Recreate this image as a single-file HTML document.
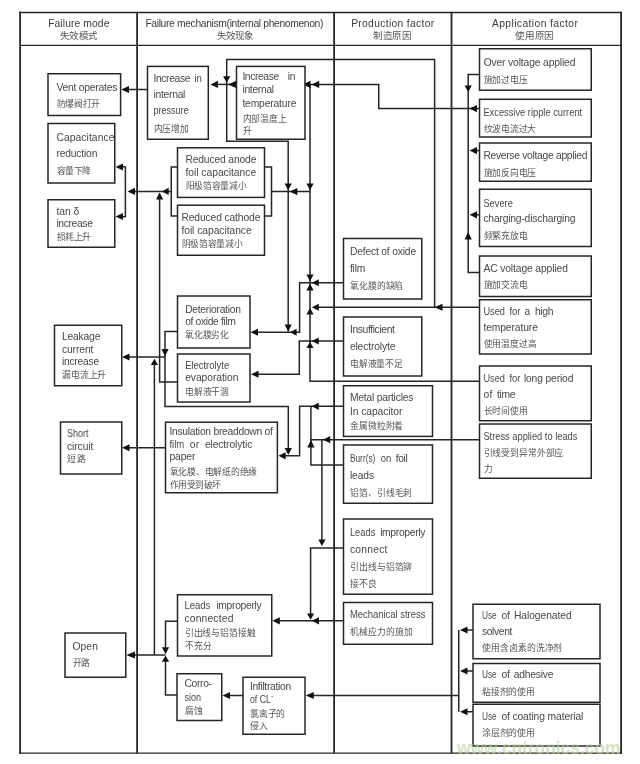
<!DOCTYPE html>
<html lang="zh-CN">
<head>
<meta charset="utf-8">
<title>Failure mode diagram</title>
<style>
html,body{margin:0;padding:0;background:#fefefe;}
body{width:640px;height:764px;overflow:hidden;font-family:"Liberation Sans",sans-serif;}
svg{display:block;}
text{font-family:"Liberation Sans",sans-serif;white-space:pre;}
</style>
</head>
<body>
<svg width="640" height="764" viewBox="0 0 640 764">
<rect x="0" y="0" width="640" height="764" fill="#fefefe"/>
<g style="filter:blur(0.35px)">
<polyline points="20.1,11.8 20.1,753.7" fill="none" stroke="#262626" stroke-width="1.8"/>
<polyline points="621.1,11.8 621.1,753.7" fill="none" stroke="#262626" stroke-width="1.8"/>
<polyline points="19.2,12.5 622,12.5" fill="none" stroke="#262626" stroke-width="1.4"/>
<polyline points="19.2,753.2 622,753.2" fill="none" stroke="#262626" stroke-width="1.3"/>
<polyline points="20,45.4 621.25,45.4" fill="none" stroke="#262626" stroke-width="1.3"/>
<polyline points="137.1,12 137.1,753.2" fill="none" stroke="#262626" stroke-width="1.8"/>
<polyline points="334.1,12 334.1,753.2" fill="none" stroke="#262626" stroke-width="1.8"/>
<polyline points="451.5,12 451.5,753.2" fill="none" stroke="#262626" stroke-width="1.8"/>
<polyline points="434.6,307.25 434.6,59.6 226.7,59.6 226.7,141.2 288.2,141.2 288.2,331.5" fill="none" stroke="#262626" stroke-width="1.5"/>
<rect x="171.25" y="167" width="100.25" height="49" fill="none" stroke="#262626" stroke-width="1.5"/>
<polyline points="147.5,89.5 128,89.5" fill="none" stroke="#262626" stroke-width="1.5"/>
<polyline points="236.5,84.4 217,84.4" fill="none" stroke="#262626" stroke-width="1.5"/>
<polyline points="305,84.4 378.75,84.4 378.75,108.6 479.5,108.6" fill="none" stroke="#262626" stroke-width="1.5"/>
<polyline points="310,84.2 310,381.3 479.5,381.3" fill="none" stroke="#262626" stroke-width="1.5"/>
<polyline points="310.9,406.3 310.9,465 343.5,465" fill="none" stroke="#262626" stroke-width="1.5"/>
<polyline points="271.5,191.6 310,191.6" fill="none" stroke="#262626" stroke-width="1.5"/>
<polyline points="171.25,191.4 134,191.4" fill="none" stroke="#262626" stroke-width="1.5"/>
<polyline points="122,166.8 125.4,166.8 125.4,216.8 122,216.8" fill="none" stroke="#262626" stroke-width="1.5"/>
<polyline points="159.6,198 159.6,382 177.5,382" fill="none" stroke="#262626" stroke-width="1.5"/>
<polyline points="177.5,331.5 165,331.5 165,406.4 288.3,406.4 288.3,449" fill="none" stroke="#262626" stroke-width="1.5"/>
<polyline points="165,357 129,357" fill="none" stroke="#262626" stroke-width="1.5"/>
<polyline points="154.4,364 154.4,655" fill="none" stroke="#262626" stroke-width="1.5"/>
<polyline points="165.5,655 134,655" fill="none" stroke="#262626" stroke-width="1.5"/>
<polyline points="165.5,447.7 129,447.7" fill="none" stroke="#262626" stroke-width="1.5"/>
<polyline points="343.5,282.75 299.6,282.75 299.6,332.25 257,332.25" fill="none" stroke="#262626" stroke-width="1.5"/>
<polyline points="479.5,307.25 318,307.25" fill="none" stroke="#262626" stroke-width="1.5"/>
<polyline points="343.5,341 299.3,341 299.3,374.25 258,374.25" fill="none" stroke="#262626" stroke-width="1.5"/>
<polyline points="343.5,406.3 299.6,406.3 299.6,455.7 285,455.7" fill="none" stroke="#262626" stroke-width="1.5"/>
<polyline points="479.5,439.7 310,439.7" fill="none" stroke="#262626" stroke-width="1.5"/>
<polyline points="321.9,439.7 321.9,540" fill="none" stroke="#262626" stroke-width="1.5"/>
<polyline points="343.5,548 310.6,548 310.6,614" fill="none" stroke="#262626" stroke-width="1.5"/>
<polyline points="343.5,620.8 279,620.8" fill="none" stroke="#262626" stroke-width="1.5"/>
<polyline points="177.5,621.25 165.5,621.25 165.5,648" fill="none" stroke="#262626" stroke-width="1.5"/>
<polyline points="177,695 165.5,695 165.5,661" fill="none" stroke="#262626" stroke-width="1.5"/>
<polyline points="243,695.5 229,695.5" fill="none" stroke="#262626" stroke-width="1.5"/>
<polyline points="458.75,695.5 313,695.5" fill="none" stroke="#262626" stroke-width="1.5"/>
<polyline points="458.75,630 458.75,711.75" fill="none" stroke="#262626" stroke-width="1.5"/>
<polyline points="473,630 466,630" fill="none" stroke="#262626" stroke-width="1.5"/>
<polyline points="473,671 466,671" fill="none" stroke="#262626" stroke-width="1.5"/>
<polyline points="473,711.75 466,711.75" fill="none" stroke="#262626" stroke-width="1.5"/>
<polyline points="479.5,74.4 468.2,74.4 468.2,272.4 479.5,272.4" fill="none" stroke="#262626" stroke-width="1.5"/>
<polyline points="479.5,150.6 476,150.6" fill="none" stroke="#262626" stroke-width="1.5"/>
<polyline points="479.5,214.8 476,214.8" fill="none" stroke="#262626" stroke-width="1.5"/>
<polygon points="121.2,89.5 129,85.9 129,93.1" fill="#111"/>
<polygon points="210.5,84.4 218,80.80000000000001 218,88.0" fill="#111"/>
<polygon points="228.4,84.4 236,80.80000000000001 236,88.0" fill="#111"/>
<polygon points="226.7,82.8 223.1,76.2 230.29999999999998,76.2" fill="#111"/>
<polygon points="302.8,84.4 310.5,80.80000000000001 310.5,88.0" fill="#111"/>
<polygon points="311.6,84.4 319.2,80.80000000000001 319.2,88.0" fill="#111"/>
<polygon points="469.4,108.6 477,105.0 477,112.19999999999999" fill="#111"/>
<polygon points="310,190.2 306.4,183.5 313.6,183.5" fill="#111"/>
<polygon points="288.2,190.2 284.59999999999997,183.5 291.8,183.5" fill="#111"/>
<polygon points="289.7,191.6 297.4,188.0 297.4,195.2" fill="#111"/>
<polygon points="127.5,191.4 135,187.8 135,195.0" fill="#111"/>
<polygon points="162,191.4 168.7,187.8 168.7,195.0" fill="#111"/>
<polygon points="159.6,192.5 156.0,199.4 163.2,199.4" fill="#111"/>
<polygon points="115.6,167 123,163.4 123,170.6" fill="#111"/>
<polygon points="115.6,216.5 123,212.9 123,220.1" fill="#111"/>
<polygon points="310,281.3 306.4,274.4 313.6,274.4" fill="#111"/>
<polygon points="310,283.8 306.4,290.6 313.6,290.6" fill="#111"/>
<polygon points="311.9,282.75 318.75,279.15 318.75,286.35" fill="#111"/>
<polygon points="310,308 306.4,314.6 313.6,314.6" fill="#111"/>
<polygon points="311.9,307.25 318.75,303.65 318.75,310.85" fill="#111"/>
<polygon points="434.6,307.25 442.5,303.65 442.5,310.85" fill="#111"/>
<polygon points="310,341.9 306.4,348 313.6,348" fill="#111"/>
<polygon points="311.9,341 318.75,337.4 318.75,344.6" fill="#111"/>
<polygon points="288.2,331.5 284.59999999999997,324.4 291.8,324.4" fill="#111"/>
<polygon points="290,332.25 296.6,328.65 296.6,335.85" fill="#111"/>
<polygon points="250.5,332.25 258,328.65 258,335.85" fill="#111"/>
<polygon points="251,374.25 258.5,370.65 258.5,377.85" fill="#111"/>
<polygon points="165,356.3 161.4,349 168.6,349" fill="#111"/>
<polygon points="122,357 129.5,353.4 129.5,360.6" fill="#111"/>
<polygon points="154.4,358.7 150.8,365 158.0,365" fill="#111"/>
<polygon points="311.9,406.3 318.75,402.7 318.75,409.90000000000003" fill="#111"/>
<polygon points="288.3,455 284.7,448 291.90000000000003,448" fill="#111"/>
<polygon points="278.5,455.8 285.7,452.2 285.7,459.40000000000003" fill="#111"/>
<polygon points="310.9,440 307.29999999999995,447.5 314.5,447.5" fill="#111"/>
<polygon points="323,439.7 330.2,436.09999999999997 330.2,443.3" fill="#111"/>
<polygon points="122,447.75 129.5,444.15 129.5,451.35" fill="#111"/>
<polygon points="321.9,546 318.29999999999995,539.6 325.5,539.6" fill="#111"/>
<polygon points="310.6,619.8 307.0,613.4 314.20000000000005,613.4" fill="#111"/>
<polygon points="311.7,620.8 319,617.1999999999999 319,624.4" fill="#111"/>
<polygon points="272.4,620.8 279.8,617.1999999999999 279.8,624.4" fill="#111"/>
<polygon points="165.5,654.3 161.9,647.2 169.1,647.2" fill="#111"/>
<polygon points="165.5,655.6 161.9,661.8 169.1,661.8" fill="#111"/>
<polygon points="126.25,655 135,651.4 135,658.6" fill="#111"/>
<polygon points="222.5,695.5 230,691.9 230,699.1" fill="#111"/>
<polygon points="305.75,695.5 313.75,691.9 313.75,699.1" fill="#111"/>
<polygon points="460,630 467.5,626.4 467.5,633.6" fill="#111"/>
<polygon points="460,671 467.5,667.4 467.5,674.6" fill="#111"/>
<polygon points="460,711.75 467.5,708.15 467.5,715.35" fill="#111"/>
<polygon points="468.2,91.9 464.59999999999997,85.6 471.8,85.6" fill="#111"/>
<polygon points="468.2,232 464.59999999999997,239.4 471.8,239.4" fill="#111"/>
<polygon points="469.6,150.6 477,147.0 477,154.2" fill="#111"/>
<polygon points="469.6,214.8 477,211.20000000000002 477,218.4" fill="#111"/>
<rect x="48" y="73.75" width="72.6" height="41.75" fill="#fff" stroke="#262626" stroke-width="1.5"/>
<rect x="48" y="123.5" width="66.75" height="59.5" fill="#fff" stroke="#262626" stroke-width="1.5"/>
<rect x="48" y="199.75" width="66.75" height="47.5" fill="#fff" stroke="#262626" stroke-width="1.5"/>
<rect x="54.5" y="325.25" width="67.25" height="60.5" fill="#fff" stroke="#262626" stroke-width="1.5"/>
<rect x="60.5" y="422" width="61.25" height="52" fill="#fff" stroke="#262626" stroke-width="1.5"/>
<rect x="65" y="633" width="60.75" height="44.25" fill="#fff" stroke="#262626" stroke-width="1.5"/>
<rect x="147.5" y="66.4" width="60.8" height="72.85" fill="#fff" stroke="#262626" stroke-width="1.5"/>
<rect x="236.5" y="66.4" width="68.5" height="72.85" fill="#fff" stroke="#262626" stroke-width="1.5"/>
<rect x="177.5" y="147.8" width="87.0" height="49.6" fill="#fff" stroke="#262626" stroke-width="1.5"/>
<rect x="177.5" y="205.2" width="87.0" height="50.05" fill="#fff" stroke="#262626" stroke-width="1.5"/>
<rect x="177.5" y="296" width="72.5" height="52" fill="#fff" stroke="#262626" stroke-width="1.5"/>
<rect x="177.5" y="354" width="72.5" height="48" fill="#fff" stroke="#262626" stroke-width="1.5"/>
<rect x="165.5" y="422.2" width="111.9" height="70.55" fill="#fff" stroke="#262626" stroke-width="1.5"/>
<rect x="177.5" y="594.75" width="94.25" height="61.25" fill="#fff" stroke="#262626" stroke-width="1.5"/>
<rect x="177" y="673.75" width="44.75" height="46.75" fill="#fff" stroke="#262626" stroke-width="1.5"/>
<rect x="243" y="677.25" width="62" height="57.0" fill="#fff" stroke="#262626" stroke-width="1.5"/>
<rect x="343.5" y="238.5" width="78.25" height="60.5" fill="#fff" stroke="#262626" stroke-width="1.5"/>
<rect x="343.5" y="317" width="78.25" height="59" fill="#fff" stroke="#262626" stroke-width="1.5"/>
<rect x="343.5" y="385.75" width="89.0" height="50.65" fill="#fff" stroke="#262626" stroke-width="1.5"/>
<rect x="343.5" y="445" width="89.0" height="58.25" fill="#fff" stroke="#262626" stroke-width="1.5"/>
<rect x="343.5" y="519" width="89.0" height="75.2" fill="#fff" stroke="#262626" stroke-width="1.5"/>
<rect x="343.5" y="602.5" width="89.0" height="41.75" fill="#fff" stroke="#262626" stroke-width="1.5"/>
<rect x="479.5" y="48.75" width="111.75" height="41.45" fill="#fff" stroke="#262626" stroke-width="1.5"/>
<rect x="479.5" y="99.3" width="111.75" height="37.7" fill="#fff" stroke="#262626" stroke-width="1.5"/>
<rect x="479.5" y="143" width="111.75" height="38.25" fill="#fff" stroke="#262626" stroke-width="1.5"/>
<rect x="479.5" y="189.25" width="111.75" height="57.25" fill="#fff" stroke="#262626" stroke-width="1.5"/>
<rect x="479.5" y="256" width="111.75" height="40.5" fill="#fff" stroke="#262626" stroke-width="1.5"/>
<rect x="479.5" y="299.75" width="111.75" height="54.25" fill="#fff" stroke="#262626" stroke-width="1.5"/>
<rect x="479.5" y="366" width="111.75" height="54.75" fill="#fff" stroke="#262626" stroke-width="1.5"/>
<rect x="479.5" y="424" width="111.75" height="54.25" fill="#fff" stroke="#262626" stroke-width="1.5"/>
<rect x="473" y="604.25" width="127" height="54.5" fill="#fff" stroke="#262626" stroke-width="1.5"/>
<rect x="473" y="663.5" width="127" height="38.75" fill="#fff" stroke="#262626" stroke-width="1.5"/>
<rect x="473" y="704.25" width="127" height="41.75" fill="#fff" stroke="#262626" stroke-width="1.5"/>
<text class="l" x="48.13" y="27" font-size="10.3" fill="#3c3c3c" textLength="61.28" lengthAdjust="spacing">Failure mode</text>
<text class="c" x="59.62" y="39.3" font-size="9.5" fill="#555555" textLength="38.35" lengthAdjust="spacing">失效模式</text>
<text class="l" x="145.38" y="27" font-size="10.3" fill="#3c3c3c" textLength="178.03" lengthAdjust="spacing">Failure mechanism(internal phenomenon)</text>
<text class="c" x="216.62" y="39.3" font-size="9.5" fill="#555555" textLength="37.68" lengthAdjust="spacing">失效现象</text>
<text class="l" x="351.13" y="27" font-size="10.3" fill="#3c3c3c" textLength="83.03" lengthAdjust="spacing">Production factor</text>
<text class="c" x="373.37" y="39.3" font-size="9.5" fill="#555555" textLength="38.35" lengthAdjust="spacing">制造原因</text>
<text class="l" x="491.88" y="27" font-size="10.3" fill="#3c3c3c" textLength="86.03" lengthAdjust="spacing">Application factor</text>
<text class="c" x="515.37" y="39.3" font-size="9.5" fill="#555555" textLength="39.01" lengthAdjust="spacing">使用原因</text>
<text class="l" x="56.38" y="90.5" font-size="10.3" fill="#484848" textLength="61.03" lengthAdjust="spacing">Vent operates</text>
<text class="c" x="56.65" y="107.3" font-size="8.8" fill="#555555" textLength="43.63" lengthAdjust="spacing">防爆阀打开</text>
<text class="l" x="56.38" y="141" font-size="10.3" fill="#484848" textLength="58.03" lengthAdjust="spacing">Capacitance</text>
<text class="l" x="56.38" y="157" font-size="10.3" fill="#484848" textLength="41.03" lengthAdjust="spacing">reduction</text>
<text class="c" x="56.65" y="174.0" font-size="8.8" fill="#555555" textLength="34.54" lengthAdjust="spacing">容量下降</text>
<text class="l" x="56.38" y="215.25" font-size="10.3" fill="#484848" textLength="22.78" lengthAdjust="spacing">tan δ</text>
<text class="l" x="56.38" y="227.25" font-size="10.3" fill="#484848" textLength="36.53" lengthAdjust="spacing">increase</text>
<text class="c" x="56.65" y="239.8" font-size="8.8" fill="#555555" textLength="34.54" lengthAdjust="spacing">损耗上升</text>
<text class="l" x="61.88" y="340.25" font-size="10.3" fill="#484848" textLength="38.53" lengthAdjust="spacing">Leakage</text>
<text class="l" x="61.88" y="352.75" font-size="10.3" fill="#484848" textLength="31.53" lengthAdjust="spacing">current</text>
<text class="l" x="61.88" y="365.25" font-size="10.3" fill="#484848" textLength="37.28" lengthAdjust="spacing">increase</text>
<text class="c" x="62.15" y="378.3" font-size="8.8" fill="#555555" textLength="44.25" lengthAdjust="spacing">漏电流上升</text>
<text class="l" x="66.88" y="437" font-size="10.3" fill="#484848" textLength="21.53" lengthAdjust="spacingAndGlyphs">Short</text>
<text class="l" x="66.88" y="449.5" font-size="10.3" fill="#484848" textLength="26.53" lengthAdjust="spacing">circuit</text>
<text class="c" x="67.15" y="461.8" font-size="8.8" fill="#555555" textLength="18.81" lengthAdjust="spacing">短路</text>
<text class="l" x="72.38" y="649.75" font-size="10.3" fill="#484848" textLength="25.53" lengthAdjust="spacing">Open</text>
<text class="c" x="72.65" y="666.05" font-size="8.8" fill="#555555" textLength="17.81" lengthAdjust="spacing">开路</text>
<text class="l" x="153.38" y="82" font-size="10.3" fill="#484848" textLength="37.03" lengthAdjust="spacing">Increase</text>
<text class="l" x="194.38" y="82" font-size="10.3" fill="#484848" textLength="7.53" lengthAdjust="spacingAndGlyphs">in</text>
<text class="l" x="153.38" y="98" font-size="10.3" fill="#484848" textLength="32.03" lengthAdjust="spacing">internal</text>
<text class="l" x="153.38" y="114" font-size="10.3" fill="#484848" textLength="35.03" lengthAdjust="spacingAndGlyphs">pressure</text>
<text class="c" x="153.65" y="131.8" font-size="8.8" fill="#555555" textLength="35.54" lengthAdjust="spacing">内压增加</text>
<text class="l" x="242.38" y="79.5" font-size="10.3" fill="#484848" textLength="36.78" lengthAdjust="spacing">Increase</text>
<text class="l" x="287.63" y="79.5" font-size="10.3" fill="#484848" textLength="7.78" lengthAdjust="spacing">in</text>
<text class="l" x="242.38" y="93.4" font-size="10.3" fill="#484848" textLength="31.78" lengthAdjust="spacing">internal</text>
<text class="l" x="242.38" y="107" font-size="10.3" fill="#484848" textLength="54.03" lengthAdjust="spacing">temperature</text>
<text class="c" x="242.65" y="121.6" font-size="8.8" fill="#555555" textLength="43.94" lengthAdjust="spacing">内部温度上</text>
<text class="c" x="243" y="134.1" font-size="8.8" fill="#555555">升</text>
<text class="l" x="185.38" y="162.5" font-size="10.3" fill="#484848" textLength="71.03" lengthAdjust="spacing">Reduced anode</text>
<text class="l" x="185.38" y="175.6" font-size="10.3" fill="#484848" textLength="70.78" lengthAdjust="spacing">foil capacitance</text>
<text class="c" x="185.65" y="188.5" font-size="8.8" fill="#555555" textLength="60.85" lengthAdjust="spacing">阳极箔容量减小</text>
<text class="l" x="181.38" y="220.5" font-size="10.3" fill="#484848" textLength="79.03" lengthAdjust="spacing">Reduced cathode</text>
<text class="l" x="181.38" y="233.6" font-size="10.3" fill="#484848" textLength="70.28" lengthAdjust="spacing">foil capacitance</text>
<text class="c" x="181.65" y="246.7" font-size="8.8" fill="#555555" textLength="61.14" lengthAdjust="spacing">阴极箔容量减小</text>
<text class="l" x="185.13" y="312.6" font-size="10.3" fill="#484848" textLength="55.78" lengthAdjust="spacing">Deterioration</text>
<text class="l" x="185.13" y="324.6" font-size="10.3" fill="#484848" textLength="50.78" lengthAdjust="spacing">of oxide film</text>
<text class="c" x="185.4" y="337.8" font-size="8.8" fill="#555555" textLength="43.63" lengthAdjust="spacing">氧化膜劣化</text>
<text class="l" x="185.13" y="368.5" font-size="10.3" fill="#484848" textLength="44.03" lengthAdjust="spacingAndGlyphs">Electrolyte</text>
<text class="l" x="185.13" y="381.2" font-size="10.3" fill="#484848" textLength="53.28" lengthAdjust="spacing">evaporation</text>
<text class="c" x="185.4" y="394.5" font-size="8.8" fill="#555555" textLength="43.63" lengthAdjust="spacing">电解液干涸</text>
<text class="l" x="169.38" y="435.25" font-size="10.3" fill="#484848" textLength="103.53" lengthAdjust="spacing">Insulation breaddown of</text>
<text class="l" x="169.38" y="448.25" font-size="10.3" fill="#484848" textLength="14.78" lengthAdjust="spacingAndGlyphs">film</text>
<text class="l" x="189.68" y="448.25" font-size="10.3" fill="#484848" textLength="9.53" lengthAdjust="spacing">or</text>
<text class="l" x="204.88" y="448.25" font-size="10.3" fill="#484848" textLength="47.53" lengthAdjust="spacing">electrolytic</text>
<text class="l" x="169.38" y="460.25" font-size="10.3" fill="#484848" textLength="26.03" lengthAdjust="spacing">paper</text>
<text class="c" x="169.65" y="475.05" font-size="8.8" fill="#555555" textLength="87.67" lengthAdjust="spacing">氧化膜、电解纸的绝缘</text>
<text class="c" x="169.65" y="487.7" font-size="8.8" fill="#555555" textLength="51.78" lengthAdjust="spacing">作用受到破坏</text>
<text class="l" x="184.38" y="609.25" font-size="10.3" fill="#484848" textLength="26.03" lengthAdjust="spacingAndGlyphs">Leads</text>
<text class="l" x="216.38" y="609.25" font-size="10.3" fill="#484848" textLength="45.28" lengthAdjust="spacing">improperly</text>
<text class="l" x="184.38" y="621.75" font-size="10.3" fill="#484848" textLength="49.03" lengthAdjust="spacing">connected</text>
<text class="c" x="184.65" y="636.05" font-size="8.8" fill="#555555" textLength="71.32" lengthAdjust="spacing">引出线与铝箔接触</text>
<text class="c" x="184.65" y="648.7" font-size="8.8" fill="#555555" textLength="27.23" lengthAdjust="spacing">不充分</text>
<text class="l" x="184.38" y="687.25" font-size="10.3" fill="#484848" textLength="27.63" lengthAdjust="spacing">Corro-</text>
<text class="l" x="184.38" y="700.5" font-size="10.3" fill="#484848" textLength="16.63" lengthAdjust="spacingAndGlyphs">sion</text>
<text class="c" x="184.65" y="714.3" font-size="8.8" fill="#555555" textLength="18.61" lengthAdjust="spacing">腐蚀</text>
<text class="l" x="249.88" y="689.75" font-size="10.3" fill="#484848" textLength="41.28" lengthAdjust="spacing">Infiltration</text>
<text class="l" x="249.88" y="702.5" font-size="10.3" fill="#484848" textLength="21.03" lengthAdjust="spacingAndGlyphs">of CL</text>
<text class="l" x="271" y="697.5" font-size="7" fill="#484848">-</text>
<text class="c" x="250.15" y="716.7" font-size="8.8" fill="#555555" textLength="35.21" lengthAdjust="spacing">氯离子的</text>
<text class="c" x="250.15" y="729.3" font-size="8.8" fill="#555555" textLength="17.81" lengthAdjust="spacing">侵入</text>
<text class="l" x="349.88" y="254.75" font-size="10.3" fill="#484848" textLength="66.28" lengthAdjust="spacing">Defect of oxide</text>
<text class="l" x="349.88" y="271.5" font-size="10.3" fill="#484848" textLength="15.53" lengthAdjust="spacing">film</text>
<text class="c" x="350.15" y="289.05" font-size="8.8" fill="#555555" textLength="53.28" lengthAdjust="spacing">氧化膜的缺陷</text>
<text class="l" x="349.88" y="333" font-size="10.3" fill="#484848" textLength="45.03" lengthAdjust="spacing">Insufficient</text>
<text class="l" x="349.88" y="349.75" font-size="10.3" fill="#484848" textLength="45.53" lengthAdjust="spacing">electrolyte</text>
<text class="c" x="350.15" y="367.3" font-size="8.8" fill="#555555" textLength="52.68" lengthAdjust="spacing">电解液量不足</text>
<text class="l" x="349.88" y="401.25" font-size="10.3" fill="#484848" textLength="63.53" lengthAdjust="spacing">Metal particles</text>
<text class="l" x="349.88" y="414.5" font-size="10.3" fill="#484848" textLength="52.53" lengthAdjust="spacing">In capacitor</text>
<text class="c" x="350.15" y="428.8" font-size="8.8" fill="#555555" textLength="53.28" lengthAdjust="spacing">金属微粒附着</text>
<text class="l" x="349.88" y="461.5" font-size="10.3" fill="#484848" textLength="25.53" lengthAdjust="spacingAndGlyphs">Burr(s)</text>
<text class="l" x="380.63" y="461.5" font-size="10.3" fill="#484848" textLength="10.53" lengthAdjust="spacingAndGlyphs">on</text>
<text class="l" x="395.63" y="461.5" font-size="10.3" fill="#484848" textLength="12.28" lengthAdjust="spacing">foil</text>
<text class="l" x="349.88" y="479" font-size="10.3" fill="#484848" textLength="24.28" lengthAdjust="spacing">leads</text>
<text class="c" x="350.15" y="495.8" font-size="8.8" fill="#555555" textLength="62.3" lengthAdjust="spacing">铝箔、引线毛刺</text>
<text class="l" x="349.88" y="535.75" font-size="10.3" fill="#484848" textLength="25.53" lengthAdjust="spacingAndGlyphs">Leads</text>
<text class="l" x="380.13" y="535.75" font-size="10.3" fill="#484848" textLength="45.28" lengthAdjust="spacing">improperly</text>
<text class="l" x="349.88" y="552.5" font-size="10.3" fill="#484848" textLength="37.53" lengthAdjust="spacing">connect</text>
<text class="c" x="350.15" y="570.05" font-size="8.8" fill="#555555" textLength="62.3" lengthAdjust="spacing">引出线与铝箔铆</text>
<text class="c" x="350.15" y="586.7" font-size="8.8" fill="#555555" textLength="26.48" lengthAdjust="spacing">接不良</text>
<text class="l" x="349.88" y="617.5" font-size="10.3" fill="#484848" textLength="75.53" lengthAdjust="spacingAndGlyphs">Mechanical stress</text>
<text class="c" x="350.15" y="634.8" font-size="8.8" fill="#555555" textLength="62.89" lengthAdjust="spacing">机械应力的施加</text>
<text class="l" x="483.63" y="65.5" font-size="10.3" fill="#484848" textLength="91.78" lengthAdjust="spacing">Over voltage applied</text>
<text class="c" x="483.65" y="82.55" font-size="8.8" fill="#555555" textLength="44.25" lengthAdjust="spacing">施加过电压</text>
<text class="l" x="483.38" y="115.5" font-size="10.3" fill="#484848" textLength="98.78" lengthAdjust="spacingAndGlyphs">Excessive ripple current</text>
<text class="c" x="483.65" y="131.8" font-size="8.8" fill="#555555" textLength="52.68" lengthAdjust="spacing">纹波电流过大</text>
<text class="l" x="483.38" y="159" font-size="10.3" fill="#484848" textLength="104.03" lengthAdjust="spacing">Reverse voltage applied</text>
<text class="c" x="483.65" y="175.5" font-size="8.8" fill="#555555" textLength="52.68" lengthAdjust="spacing">施加反向电压</text>
<text class="l" x="483.38" y="206.5" font-size="10.3" fill="#484848" textLength="29.53" lengthAdjust="spacingAndGlyphs">Severe</text>
<text class="l" x="483.38" y="222" font-size="10.3" fill="#484848" textLength="92.03" lengthAdjust="spacing">charging-discharging</text>
<text class="c" x="483.65" y="238.5" font-size="8.8" fill="#555555" textLength="44.25" lengthAdjust="spacing">频繁充放电</text>
<text class="l" x="483.38" y="271.5" font-size="10.3" fill="#484848" textLength="84.53" lengthAdjust="spacing">AC voltage applied</text>
<text class="c" x="483.65" y="288.0" font-size="8.8" fill="#555555" textLength="44.25" lengthAdjust="spacing">施加交流电</text>
<text class="l" x="483.38" y="315.25" font-size="10.3" fill="#484848" textLength="21.53" lengthAdjust="spacingAndGlyphs">Used</text>
<text class="l" x="509.38" y="315.25" font-size="10.3" fill="#484848" textLength="11.03" lengthAdjust="spacingAndGlyphs">for</text>
<text class="l" x="524.38" y="315.25" font-size="10.3" fill="#484848" textLength="6.03" lengthAdjust="spacing">a</text>
<text class="l" x="534.88" y="315.25" font-size="10.3" fill="#484848" textLength="18.53" lengthAdjust="spacing">high</text>
<text class="l" x="483.38" y="331.3" font-size="10.3" fill="#484848" textLength="54.53" lengthAdjust="spacing">temperature</text>
<text class="c" x="483.65" y="347.05" font-size="8.8" fill="#555555" textLength="52.98" lengthAdjust="spacing">使用温度过高</text>
<text class="l" x="483.38" y="382.3" font-size="10.3" fill="#484848" textLength="21.53" lengthAdjust="spacingAndGlyphs">Used</text>
<text class="l" x="509.38" y="382.3" font-size="10.3" fill="#484848" textLength="11.03" lengthAdjust="spacingAndGlyphs">for</text>
<text class="l" x="523.88" y="382.3" font-size="10.3" fill="#484848" textLength="49.53" lengthAdjust="spacing">long period</text>
<text class="l" x="483.38" y="397.5" font-size="10.3" fill="#484848" textLength="9.03" lengthAdjust="spacing">of</text>
<text class="l" x="496.88" y="397.5" font-size="10.3" fill="#484848" textLength="18.53" lengthAdjust="spacing">time</text>
<text class="c" x="483.65" y="413.8" font-size="8.8" fill="#555555" textLength="44.25" lengthAdjust="spacing">长时间使用</text>
<text class="l" x="483.38" y="439.5" font-size="10.3" fill="#484848" textLength="94.03" lengthAdjust="spacingAndGlyphs">Stress applied to leads</text>
<text class="c" x="483.65" y="456.3" font-size="8.8" fill="#555555" textLength="79.77" lengthAdjust="spacing">引线受到异常外部应</text>
<text class="c" x="484" y="471.8" font-size="8.8" fill="#555555">力</text>
<text class="l" x="481.88" y="619.25" font-size="10.3" fill="#484848" textLength="14.78" lengthAdjust="spacingAndGlyphs">Use</text>
<text class="l" x="501.38" y="619.25" font-size="10.3" fill="#484848" textLength="8.53" lengthAdjust="spacing">of</text>
<text class="l" x="513.88" y="619.25" font-size="10.3" fill="#484848" textLength="57.78" lengthAdjust="spacing">Halogenated</text>
<text class="l" x="481.88" y="634.75" font-size="10.3" fill="#484848" textLength="30.53" lengthAdjust="spacing">solvent</text>
<text class="c" x="482.15" y="651.05" font-size="8.8" fill="#555555" textLength="80.33" lengthAdjust="spacing">使用含卤素的洗净剂</text>
<text class="l" x="481.88" y="678" font-size="10.3" fill="#484848" textLength="14.78" lengthAdjust="spacingAndGlyphs">Use</text>
<text class="l" x="501.38" y="678" font-size="10.3" fill="#484848" textLength="8.53" lengthAdjust="spacing">of</text>
<text class="l" x="513.63" y="678" font-size="10.3" fill="#484848" textLength="39.78" lengthAdjust="spacing">adhesive</text>
<text class="c" x="482.15" y="694.8" font-size="8.8" fill="#555555" textLength="52.68" lengthAdjust="spacing">粘接剂的使用</text>
<text class="l" x="481.88" y="719.75" font-size="10.3" fill="#484848" textLength="14.78" lengthAdjust="spacingAndGlyphs">Use</text>
<text class="l" x="501.38" y="719.75" font-size="10.3" fill="#484848" textLength="8.53" lengthAdjust="spacing">of</text>
<text class="l" x="512.38" y="719.75" font-size="10.3" fill="#484848" textLength="71.03" lengthAdjust="spacing">coating material</text>
<text class="c" x="482.15" y="736.05" font-size="8.8" fill="#555555" textLength="52.68" lengthAdjust="spacing">涂层剂的使用</text>
<text class="l" x="457" y="754.3" font-size="19" font-weight="bold" fill="#b4d09c" fill-opacity="0.6" textLength="163.5" lengthAdjust="spacingAndGlyphs">www.cntronics.com</text>
</g>
</svg>
</body>
</html>
